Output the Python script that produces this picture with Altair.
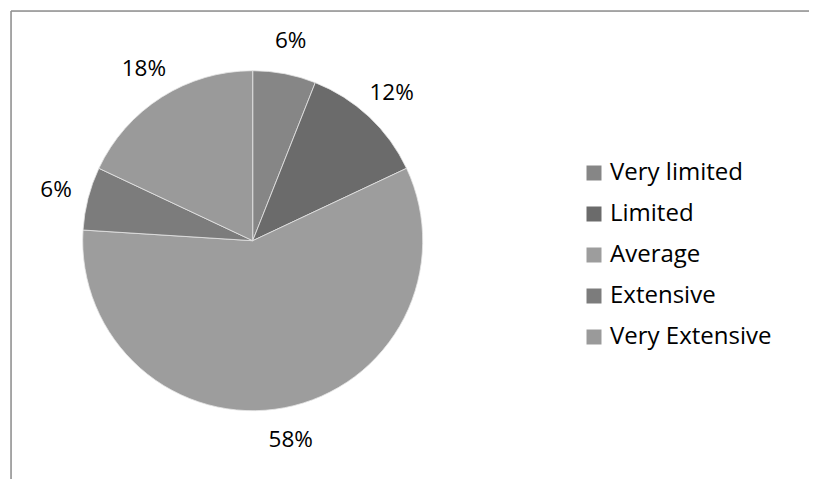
import altair as alt
import pandas as pd

categories = ["Very limited", "Limited", "Average", "Extensive", "Very Extensive"]
values = [6, 12, 58, 6, 18]
colors = ["#868686", "#6b6b6b", "#9d9d9d", "#7c7c7c", "#9a9a9a"]

df = pd.DataFrame({
    "category": categories,
    "value": values,
    "order": list(range(len(categories))),
    "label": [f"{v}%" for v in values],
})

FONT = "Open Sans"
W, H = 798, 468
CX, CY = 241.7, 229.7

base = alt.Chart(df).encode(
    theta=alt.Theta("value:Q", stack=True),
    order=alt.Order("order:Q"),
)

arcs = base.mark_arc(stroke="#e6e6e6", strokeWidth=0.8).encode(
    x=alt.value(CX),
    y=alt.value(CY),
    radius=alt.value(170),
    color=alt.Color(
        "category:N",
        scale=alt.Scale(domain=categories, range=colors),
        sort=categories,
        legend=alt.Legend(
            title=None,
            orient="none",
            legendX=571,
            legendY=150,
            symbolType="square",
            symbolSize=225,
            symbolStrokeWidth=0,
            labelFont=FONT,
            labelFontSize=24,
            labelColor="#000000",
            labelLimit=300,
            labelOffset=4,
            rowPadding=17,
            padding=0,
        ),
    ),
)

labels = base.mark_text(font=FONT, fontSize=22.5, color="#000000").encode(
    x=alt.value(CX),
    y=alt.value(CY),
    radius=alt.value(203),
    text="label:N",
)

frame_df = pd.DataFrame({"k": [0]})
top_line = alt.Chart(frame_df).mark_rule(color="#8f8f8f", strokeWidth=1.5).encode(
    x=alt.value(0), x2=alt.value(W), y=alt.value(0)
)
left_line = alt.Chart(frame_df).mark_rule(color="#8f8f8f", strokeWidth=1.5).encode(
    x=alt.value(0), y=alt.value(0), y2=alt.value(H)
)

chart = (
    alt.layer(arcs, labels, top_line, left_line)
    .properties(
        width=W,
        height=H,
        autosize=alt.AutoSizeParams(type="none"),
        padding={"left": 3, "top": 3, "right": 0, "bottom": 0},
    )
    .configure_view(stroke=None)
    .configure(background="white")
)

chart.save("out.html", embed_options={"renderer": "svg", "actions": False})
